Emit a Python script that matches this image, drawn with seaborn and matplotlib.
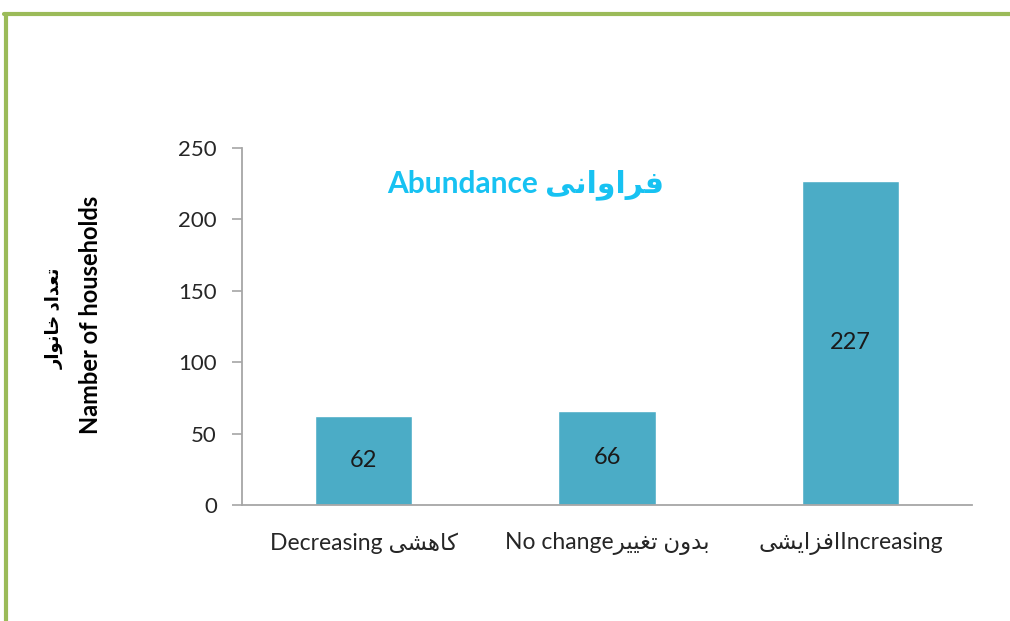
import matplotlib
matplotlib.use("Agg")
import matplotlib.pyplot as plt
from matplotlib.lines import Line2D
import seaborn as sns
import pandas as pd

# Persian text is written as presentation forms in visual (left-to-right) order,
# because matplotlib does no shaping or bidi.
fa_abundance = "\uFEF0\uFEE7\uFE8D\uFEED\uFE8D\uFEAE\uFED3"
fa_households = "\uFEAD\uFE8D\uFEEE\uFEE7\uFE8E\uFEA7 \uFEA9\uFE8D\uFEAA\uFECC\uFE97"
fa_decreasing = "\uFEF0\uFEB8\uFEEB\uFE8E\uFEDB"
fa_nochange = "\uFEAE\uFEF4\uFEF4\uFED0\uFE97 \uFEE5\uFEED\uFEAA\uFE91"
fa_increasing = "\uFEF0\uFEB8\uFEF3\uFE8D\uFEB0\uFED3\uFE8D"

categories = ["Decreasing " + fa_decreasing,
              "No change" + fa_nochange,
              fa_increasing + "Increasing"]
households = [62, 66, 227]
y_ticks = [0, 50, 100, 150, 200, 250]

df = pd.DataFrame({"category": categories, "households": households})

sns.set_style("white")
plt.rcParams["font.family"] = ["Lato", "DejaVu Sans"]

fig = plt.figure(figsize=(10.1, 6.21), dpi=100)
ax = fig.add_axes([0.2396, 0.1868, 0.7228, 0.5749])

sns.barplot(data=df, x="category", y="households", color="#4BACC6",
            saturation=1, width=0.4, ax=ax)

ax.set_xlim(-0.5, 2.5)
ax.set_ylim(0, 250)
ax.set_yticks(y_ticks)
ax.tick_params(axis="y", which="both", left=True, length=7, width=1.2,
               color="#A6A6A6", labelsize=16, labelcolor="#262626", pad=11)
ax.tick_params(axis="x", bottom=False, labelsize=16.5, labelcolor="#262626", pad=16)

for s in ["top", "right"]:
    ax.spines[s].set_visible(False)
for s in ["left", "bottom"]:
    ax.spines[s].set_color("#A6A6A6")
    ax.spines[s].set_linewidth(1.3)

# value labels in the middle of each bar
for i, v in enumerate(households):
    ax.text(i, v / 2, str(v), ha="center", va="center", fontsize=17, color="#1a1a1a")

ax.set_xlabel("")
ax.set_ylabel("")

# two-line y label: Persian line (left) and English line (right)
fig.text(55 / 1010, 1 - 318 / 621, fa_households, rotation=90, ha="center",
         va="center", fontsize=13, fontweight="bold", color="black")
fig.text(90 / 1010, 1 - 315 / 621, "Namber of households", rotation=90,
         ha="center", va="center", fontsize=17, fontweight="bold", color="black")

ax.text(0.388, 0.896, "Abundance " + fa_abundance, transform=ax.transAxes,
        ha="center", va="center", fontsize=21.5, fontweight="bold", color="#17C2F2")

# green frame on top and left
fig.add_artist(Line2D([0.004, 1.0], [0.977, 0.977], color="#9BBB59", lw=3,
                      transform=fig.transFigure))
fig.add_artist(Line2D([0.0055, 0.0055], [0.0, 0.977], color="#9BBB59", lw=3,
                      transform=fig.transFigure))

fig.savefig("out.png", dpi=100, facecolor="white")
